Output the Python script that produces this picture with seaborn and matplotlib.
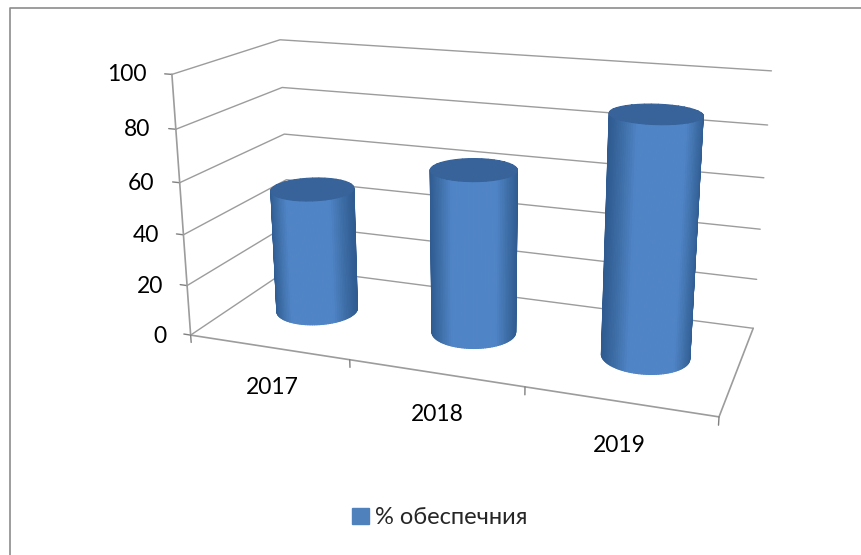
import numpy as np
import seaborn as sns
import matplotlib.pyplot as plt
from matplotlib.lines import Line2D
from matplotlib.patches import Patch

years = ["2017", "2018", "2019"]
values = [50, 64, 90]
z_ticks = [0, 20, 40, 60, 80, 100]
series_name = "% обеспечния"

sns.set_theme(style="white")
plt.rcParams["font.family"] = ["Lato", "Open Sans", "DejaVu Sans"]

grid_color = "#9c9c9c"
shades = sns.blend_palette(["#2f5b90", "#3f6fa8", "#4f84c6"], 64)
box = (538, 215, 270)
azim = -70
elev = 17

fig = plt.figure(figsize=(8.62, 5.55), dpi=100)
# axes bigger than the figure so the 3d scene does not get clipped
ax = fig.add_axes([-0.046, -0.297, 1.16, 1.802], projection="3d")
ax.computed_zorder = False
ax.set_proj_type("persp", focal_length=0.23)
ax.view_init(elev=elev, azim=azim)
ax.set_box_aspect(box, zoom=0.622)
ax.set_xlim(0, 3)
ax.set_ylim(0, 1)
ax.set_zlim(0, 100)
ax.set_axis_off()

# walls and floor
for z in z_ticks:
    ax.plot([0, 0, 3], [0, 1, 1], [z, z, z], color=grid_color, lw=1, zorder=1)
    ax.plot([-0.045, 0], [0, 0], [z, z], color="#808080", lw=1, zorder=1)
    ax.text(-0.12, -0.05, z, str(z), ha="right", va="center", fontsize=16.5, color="black")
ax.plot([0, 0], [0, 0], [0, 100], color=grid_color, lw=1.2, zorder=1)
ax.plot([0, 3, 3], [0, 0, 1], [0, 0, 0], color=grid_color, lw=1.2, zorder=1)
for x in range(4):
    ax.plot([x, x], [0, 0], [0, -3], color="#808080", lw=1, zorder=1)

# cylinders, only the half facing the camera needs drawing
rx = 0.24
ry = rx * (box[0] / 3) / box[1]
view = np.deg2rad(azim)
theta = np.linspace(view - np.pi * 0.53, view + np.pi * 0.53, 61)
disc = np.linspace(0, 2 * np.pi, 121)
for i, (year, v) in enumerate(zip(years, values)):
    cx = i + 0.5
    X = np.array([cx + rx * np.cos(theta)] * 2)
    Y = np.array([0.5 + ry * np.sin(theta)] * 2)
    Z = np.array([np.zeros_like(theta), np.full_like(theta, v)])
    mid = (theta[:-1] + theta[1:]) / 2
    facing = np.clip((1 - np.abs(np.sin(mid - view))) * 2.0, 0, 1)
    cols = np.array([shades[int(f * 63)] for f in facing])[None, :, :]
    side = ax.plot_surface(X, Y, Z, facecolors=cols, shade=False,
                           rstride=1, cstride=1, linewidth=0.8, zorder=3 + i)
    side.set_snap(False)
    r = np.array([0, 1])
    tx = cx + np.outer(r, rx * np.cos(disc))
    ty = 0.5 + np.outer(r, ry * np.sin(disc))
    cap = ax.plot_surface(tx, ty, np.full_like(tx, v), color="#37639a", shade=False,
                          edgecolor="#37639a", linewidth=0.8, zorder=3.5 + i)
    cap.set_snap(False)
    ax.text(cx, 0.02, -17, year, ha="center", va="center", fontsize=16.5, color="black")

fig.legend(handles=[Patch(color="#4f81bd", label=series_name)], loc="center",
           bbox_to_anchor=(0.51, 0.0667), frameon=False, fontsize=17,
           handlelength=0.7, handleheight=0.7, handletextpad=0.25)

# chart frame
fig.add_artist(Line2D([0.012, 0.012, 1], [0, 0.985, 0.985], color="#8c8c8c", lw=1.2))

fig.savefig("out.png", dpi=100)
